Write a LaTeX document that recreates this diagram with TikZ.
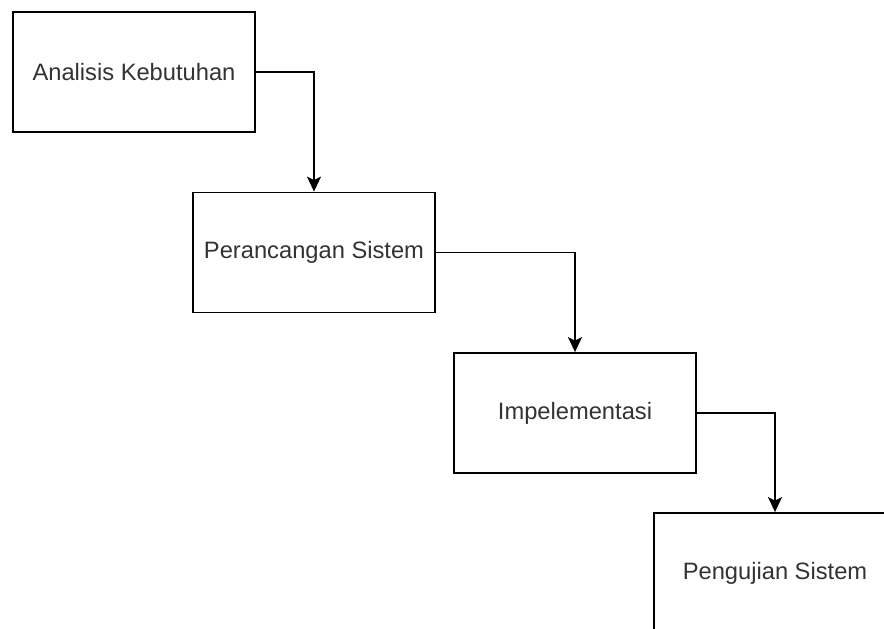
\documentclass[tikz,border=0pt]{standalone}
\usepackage{fontspec}
\setmainfont{Liberation Sans}
\usetikzlibrary{arrows.meta}
\tikzset{
  stage/.style={draw=black, line width=1.8pt, fill=white, rectangle,
    minimum width=242pt, minimum height=120pt, inner sep=0pt,
    font=\fontsize{23.7}{28}\selectfont, text=black!80},
  flow/.style={draw=black, line width=1.8pt,
    -{Stealth[length=15pt, width=14pt, inset=3.5pt]}}
}
\begin{document}
\begin{tikzpicture}[x=1pt, y=-1pt]
  \useasboundingbox (0,0) rectangle (884,629);
  \fill[white] (0,0) rectangle (884,629);
  \clip (0,0) rectangle (884,629);
  \node[stage] (a) at (134,72)    {Analisis Kebutuhan};
  \node[stage] (b) at (314,252.5) {Perancangan Sistem};
  \node[stage] (c) at (575,413)   {Impelementasi};
  \node[stage] (d) at (775,573)   {Pengujian Sistem};
  \draw[flow] (a.east) -| (b.north);
  \draw[flow] (b.east) -| (c.north);
  \draw[flow] (c.east) -| (d.north);
\end{tikzpicture}
\end{document}
